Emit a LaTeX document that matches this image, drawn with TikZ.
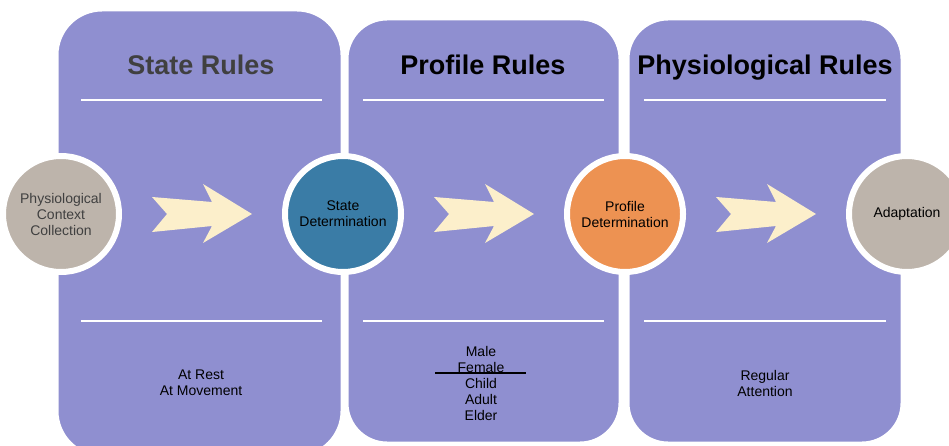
\documentclass[tikz,border=0pt]{standalone}
\usepackage{fontspec}
\setmainfont{Liberation Sans}
\usepackage{tikz}
\usetikzlibrary{calc}
\definecolor{panelfill}{RGB}{143,143,208}
\definecolor{stonefill}{RGB}{189,180,171}
\definecolor{statefill}{RGB}{58,124,166}
\definecolor{profilefill}{RGB}{237,146,82}
\definecolor{arrowfill}{RGB}{252,239,203}
\definecolor{titlegray}{RGB}{64,64,64}
\tikzstyle{rule}=[white, line width=2pt]
\newcommand{\flowarrow}[1]{\fill[arrowfill, shift={(#1)}] (-50,-17) -- (-35,0) -- (-50,18) -- (10,12) -- (1,29) -- (50,0) -- (1,-30) -- (10,-12) -- cycle;}

\begin{document}
\begin{tikzpicture}[x=1pt,y=-1pt,
          panel/.style={rectangle,fill=panelfill,draw=white,line width=3pt,rounded corners=40pt,inner sep=0pt},
          stage/.style={circle,draw=white,line width=6pt,minimum size=116pt,inner sep=0pt,align=center,
                        font=\fontsize{14}{16}\selectfont},
          heading/.style={anchor=base,font=\fontsize{27}{32}\selectfont\bfseries},
          items/.style={align=center,font=\fontsize{14}{16}\selectfont}]
        \useasboundingbox (0,0) rectangle (949,446);
        % panels
        \node [panel,minimum width=274pt,minimum height=424pt] (p3) at (765,231) {};
        \node [panel,minimum width=273pt,minimum height=424pt] (p2) at (483.5,231) {};
        \node [panel,minimum width=285pt,minimum height=446pt,rounded corners=45pt] (p1) at (199.5,233) {};
        % headings
        \node [heading,text=titlegray] (h1) at (201,75) {State Rules};
        \node [heading] (h2) at (483,75) {Profile Rules};
        \node [heading] (h3) at (765,75) {Physiological Rules};
        \draw [rule] (81,100) -- (322,100);
        \draw [rule] (363,100) -- (604,100);
        \draw [rule] (644,100) -- (886,100);
        \draw [rule] (81,321) -- (322,321);
        \draw [rule] (363,321) -- (604,321);
        \draw [rule] (644,321) -- (886,321);
        % stages
        \node [stage,fill=stonefill,text=titlegray] (pcc) at (61,214) {Physiological\\Context\\Collection};
        \node [stage,fill=statefill] (sd) at (343,214) {State\\Determination};
        \node [stage,fill=profilefill] (pd) at (625,214) {Profile\\Determination};
        \node [stage,fill=stonefill] (adp) at (907,214) {Adaptation};
        \coordinate (a1) at ($(pcc)!0.5!(sd)$);
        \coordinate (a2) at ($(sd)!0.5!(pd)$);
        \coordinate (a3) at ($(pd)!0.5!(adp)$);
        \flowarrow{a1}
        \flowarrow{a2}
        \flowarrow{a3}
        % rule lists
        \node [items] (l1) at (201,383) {At Rest\\At Movement};
        \node [items] (l2) at (481,383) {Male\\Female\\Child\\Adult\\Elder};
        \node [items] (l3) at (765,383) {Regular\\Attention};
        \draw [black,line width=1.5pt] (435,373) -- (526,373);
      \end{tikzpicture}
\end{document}
